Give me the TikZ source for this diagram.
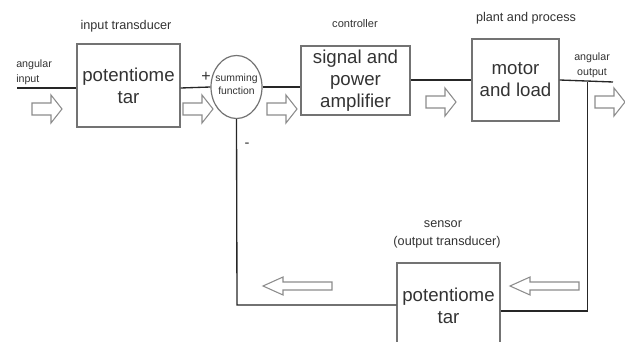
\documentclass[tikz,border=0pt]{standalone}
\usepackage{fontspec}
\setmainfont{Liberation Sans}
\usetikzlibrary{shapes.geometric}
\begin{document}
\begin{tikzpicture}[x=0.75pt,y=-0.75pt,
  txt/.style={text=black!80},
  blockbox/.style={draw=black!55, line width=0.9pt, txt, font=\fontsize{14}{16.5}\selectfont, align=center, inner sep=0pt},
  lbl/.style={txt, font=\fontsize{9.5}{11}\selectfont, inner sep=0pt, align=center},
  smalllbl/.style={txt, font=\fontsize{8}{11}\selectfont, inner sep=0pt, align=left},
  wire/.style={draw=black!85, line width=1pt},
  hollow/.style={draw=black!45, line width=0.8pt, fill=white},
  % hollow right-pointing arrow, origin at tail centre
  rarrow/.pic={\path[hollow] (0,-6) -- (19,-6) -- (19,-14) -- (30,0) -- (19,14) -- (19,6) -- (0,6) -- cycle;},
  % hollow left-pointing arrow, origin at tip
  larrow/.pic={\path[hollow] (0,0) -- (20,-9) -- (20,-4) -- (69,-4) -- (69,4) -- (20,4) -- (20,9) -- cycle;}
]
\useasboundingbox (0,0) rectangle (625,342);
\clip (0,0) rectangle (625,342);

% blocks (sizes: px * 0.75pt)
\node[blockbox, minimum width=77.25pt, minimum height=62.25pt] (pot1) at (128.5,85.5) {potentiome\\tar};
\node[draw=black!55, line width=0.9pt, ellipse, minimum width=38.25pt, minimum height=47.25pt, inner sep=0pt] (sum) at (236.5,87) {};
\node[txt, font=\fontsize{7.8}{10}\selectfont, align=center, inner sep=0pt] (sumtxt) at (236.5,84) {summing\\function};
\node[blockbox, minimum width=81.75pt, minimum height=51.75pt] (amp) at (355.5,80.5) {signal and\\power\\amplifier};
\node[blockbox, minimum width=65.25pt, minimum height=61.5pt] (motor) at (515.5,80) {motor\\and load};
\node[blockbox, minimum width=77.25pt, minimum height=75pt] (pot2) at (448.5,313) {};
\node[txt, font=\fontsize{14}{16.5}\selectfont, align=center, inner sep=0pt] (pot2txt) at (448.5,306) {potentiome\\tar};

% labels
\node[lbl] (l1) at (126,26) {input transducer};
\node[lbl, font=\fontsize{8.3}{10}\selectfont] (l2) at (355,24) {controller};
\node[lbl] (l3) at (526,18) {plant and process};
\node[lbl] (l4) at (443,224) {sensor};
\node[lbl] (l5) at (447,242) {(output transducer)};
\node[smalllbl, anchor=west] (l6) at (16,72) {angular\\input};
\node[smalllbl, anchor=west, align=center] (l7) at (574,65.5) {angular\\output};
\node[txt, font=\fontsize{12}{12}\selectfont, inner sep=0pt] (plus) at (206,77) {+};
\node[txt, font=\fontsize{11}{12}\selectfont, inner sep=0pt] (minus) at (247,145) {-};

% signal path
\coordinate (in) at (17,88);
\coordinate (out) at (613,82);
\coordinate (tap) at (587.5,82);
\coordinate (tapdown) at (587.5,311);
\coordinate (fbcorner) at (237,305);
\draw[wire] (in) -- (in -| pot1.west);
\draw[wire] (pot1.east |- in) -- (sum.west);
\draw[wire] (sum.east) -- (amp.west |- sum.east);
\draw[wire] (amp.east |- motor.west) -- (motor.west);
\draw[wire] (motor.east) -- (out);

% feedback path
\draw[wire] (tap) -- (tapdown) -- (pot2.east |- tapdown);
\draw[wire] (pot2.west |- fbcorner) -- (fbcorner) -- (sum.south);

% flow arrows
\pic at (32,109) {rarrow};
\pic at (183,109) {rarrow};
\pic at (267,109) {rarrow};
\pic at (426,102) {rarrow};
\pic at (595,102) {rarrow};
\pic at (263,286) {larrow};
\pic at (510,286) {larrow};
\end{tikzpicture}
\end{document}
